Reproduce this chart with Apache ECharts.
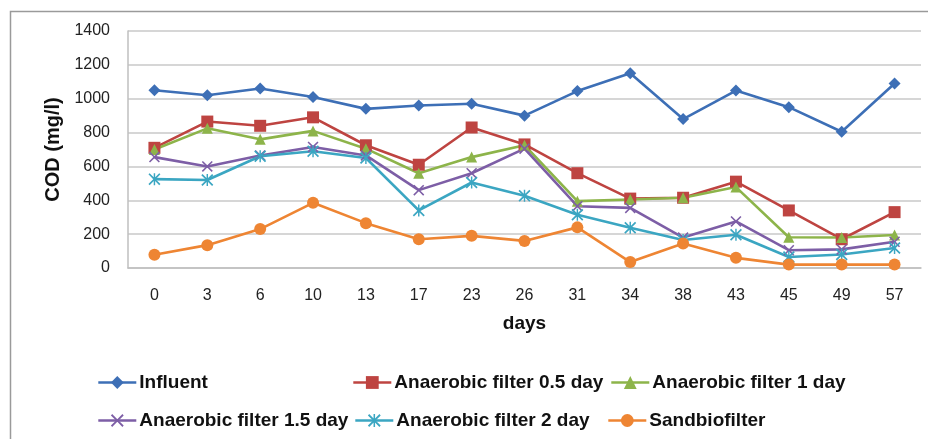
<!DOCTYPE html>
<html>
<head>
<meta charset="utf-8">
<script src="https://cdn.jsdelivr.net/npm/echarts@6/dist/echarts.min.js"></script>
<style>html,body{margin:0;padding:0;background:#fff;}#c{width:928px;height:439px;}</style>
</head>
<body>
<div id="c"></div>
<script>
var days = ['0','3','6','10','13','17','23','26','31','34','38','43','45','49','57'];
var yTicks = [0, 200, 400, 600, 800, 1000, 1200, 1400];
var influent = [1050,1020,1060,1010,940,960,970,900,1045,1150,880,1048,950,805,1090];
var af05 = [710,865,840,890,725,610,830,730,560,410,415,510,340,170,330];
var af1 = [700,825,760,810,705,560,655,725,395,405,415,478,182,180,195];
var af15 = [655,600,665,715,665,460,560,705,365,355,180,275,105,110,155];
var af2 = [525,520,660,690,650,340,505,427,315,238,165,196,65,80,118];
var sand = [78,135,230,385,265,170,190,160,240,35,145,60,20,20,20];
var names = ['Influent','Anaerobic filter 0.5 day','Anaerobic filter 1 day','Anaerobic filter 1.5 day','Anaerobic filter 2 day','Sandbiofilter'];

var FONT = '"Liberation Sans", Arial, sans-serif';
var xSym = 'path://M0,1 L1,0 L5,4 L9,0 L10,1 L6,5 L10,9 L9,10 L5,6 L1,10 L0,9 L4,5 Z';
var starSym = 'path://M0,1 L1,0 L5,4 L9,0 L10,1 L6,5 L10,9 L9,10 L5,6 L1,10 L0,9 L4,5 Z M4.4,0 L5.6,0 L5.6,4 L4.4,4 Z M4.4,6 L5.6,6 L5.6,10 L4.4,10 Z';

function mk(name, data, color, symbol, size) {
  return {
    name: name, type: 'line', data: data,
    symbol: symbol, symbolSize: size,
    lineStyle: { color: color, width: 2.6 },
    itemStyle: { color: color },
    emphasis: { disabled: true },
    animation: false
  };
}

var series = [
  mk(names[0], influent, '#3D6FB6', 'diamond', 12),
  mk(names[1], af05, '#BE4441', 'rect', 12),
  mk(names[2], af1, '#8DB44A', 'triangle', 11),
  mk(names[3], af15, '#7D5EA6', xSym, 11),
  mk(names[4], af2, '#3BA6C2', starSym, 12),
  mk(names[5], sand, '#EE8533', 'circle', 12)
];

var legendPos = [[92,368],[347,368],[605,368],[92,406],[349,406],[602,406]];
var legends = names.map(function(n, i){
  return {
    data: [n], left: legendPos[i][0], top: legendPos[i][1],
    itemWidth: 38, itemHeight: 16, itemGap: 0,
    lineStyle: { width: 2.6 },
    textStyle: { fontFamily: FONT, fontSize: 19, fontWeight: 'bold', color: '#111', padding: [0,0,0,-2] },
    selectedMode: false
  };
});

var chart = echarts.init(document.getElementById('c'), null, {renderer: 'canvas'});
chart.setOption({
  backgroundColor: '#fff',
  animation: false,
  grid: { left: 128, right: 7, top: 31, bottom: 171 },
  xAxis: {
    type: 'category', data: days, boundaryGap: true,
    name: 'days', nameLocation: 'middle', nameGap: 46,
    nameTextStyle: { fontFamily: FONT, fontSize: 19, fontWeight: 'bold', color: '#111' },
    axisLine: { lineStyle: { color: '#bfbfbf', width: 1.5 } },
    axisTick: { show: false },
    axisLabel: { fontFamily: FONT, fontSize: 16, color: '#222', margin: 20 }
  },
  yAxis: {
    type: 'value', min: yTicks[0], max: yTicks[yTicks.length-1], interval: 200,
    name: 'COD (mg/l)', nameLocation: 'middle', nameGap: 65, nameRotate: 90,
    nameTextStyle: { fontFamily: FONT, fontSize: 20, fontWeight: 'bold', color: '#111' },
    axisLine: { show: true, lineStyle: { color: '#bfbfbf', width: 1.5 } },
    axisTick: { show: false },
    splitLine: { lineStyle: { color: '#c8c8c8', width: 1.5 } },
    axisLabel: { fontFamily: FONT, fontSize: 16, color: '#222', margin: 18,
      formatter: function(v){ return String(v); } }
  },
  legend: legends,
  graphic: [{
    type: 'rect', left: 8, top: 9, z: 100, silent: true,
    shape: { width: 940, height: 450 },
    style: { fill: 'none', stroke: '#9a9a9a', lineWidth: 1.5 }
  }],
  series: series
});
</script>
</body>
</html>
